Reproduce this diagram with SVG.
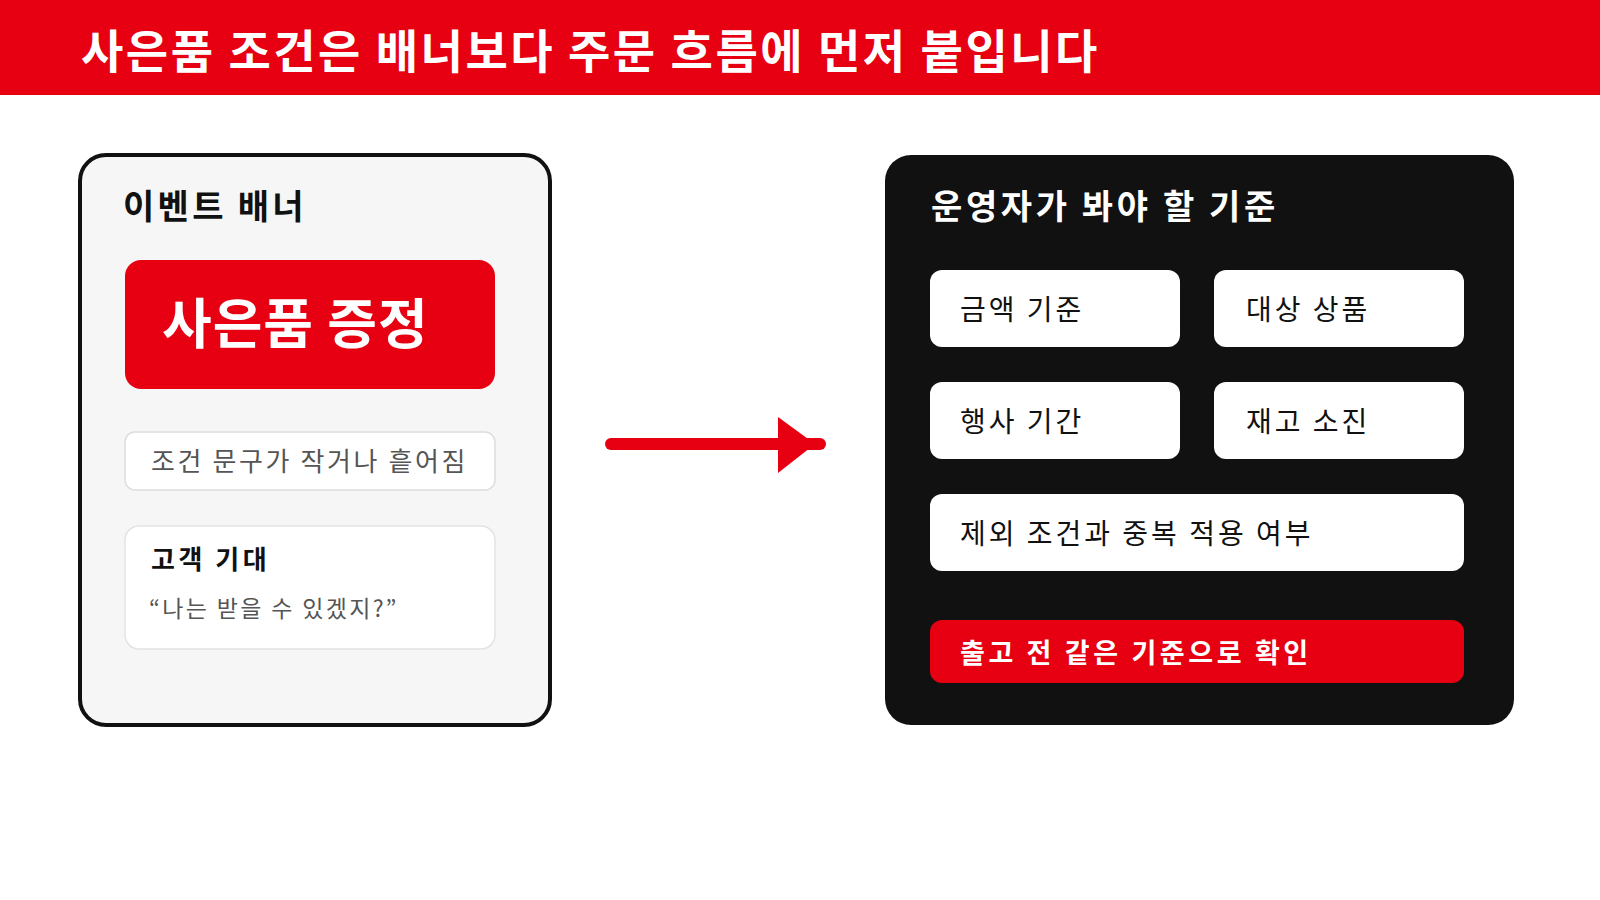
<svg xmlns="http://www.w3.org/2000/svg" width="1600" height="900" viewBox="0 0 1600 900">
<defs>
<style>
text{font-family:"Noto Sans CJK KR","Noto Sans",sans-serif}
.b{font-weight:700}
.w{fill:#fff}
.k{fill:#111}
.g{fill:#555}
.item{fill:#fff}
.itemtxt{font-size:28px;fill:#111;letter-spacing:3px}
</style>
</defs>
<rect x="0" y="0" width="1600" height="95" fill="#e60012"/>
<text x="81" y="68" class="b w" font-size="46" letter-spacing="2.5">사은품 조건은 배너보다 주문 흐름에 먼저 붙입니다</text>

<g id="banner">
<rect x="80" y="155" width="470" height="570" rx="26" fill="#f6f6f6" stroke="#111" stroke-width="4"/>
<text x="123" y="219" class="b k" font-size="34" letter-spacing="3.3">이벤트 배너</text>
</g>
<g id="gift">
<rect x="125" y="260" width="370" height="129" rx="16" fill="#e60012"/>
<text x="162" y="344" class="b w" font-size="54" letter-spacing="1">사은품 증정</text>
</g>
<g id="condition-text">
<rect x="125" y="432" width="370" height="58" rx="10" fill="#fff" stroke="#ddd" stroke-width="1.5"/>
<text x="151" y="471" class="g" font-size="26" letter-spacing="2.6">조건 문구가 작거나 흩어짐</text>
</g>
<g id="expectation">
<rect x="125" y="526" width="370" height="123" rx="14" fill="#fff" stroke="#e3e3e3" stroke-width="1.5"/>
<text x="151" y="569" class="b k" font-size="26" letter-spacing="3.5">고객 기대</text>
<text x="149" y="617" class="g" font-size="23" letter-spacing="2.35">“나는 받을 수 있겠지?”</text>
</g>

<g id="connectors">
<line x1="611" y1="444" x2="820" y2="444" stroke="#e60012" stroke-width="12" stroke-linecap="round"/>
<polygon points="778,417 778,473 815,444" fill="#e60012"/>
</g>

<g id="criteria">
<rect x="885" y="155" width="629" height="570" rx="26" fill="#111"/>
<text x="931" y="219" class="b w" font-size="34" letter-spacing="3.6">운영자가 봐야 할 기준</text>
</g>
<g id="amount">
<rect x="930" y="270" width="250" height="77" rx="12" class="item"/>
<text x="960" y="320" class="itemtxt">금액 기준</text>
</g>
<g id="product">
<rect x="1214" y="270" width="250" height="77" rx="12" class="item"/>
<text x="1246" y="320" class="itemtxt">대상 상품</text>
</g>
<g id="period">
<rect x="930" y="382" width="250" height="77" rx="12" class="item"/>
<text x="960" y="432" class="itemtxt">행사 기간</text>
</g>
<g id="stock">
<rect x="1214" y="382" width="250" height="77" rx="12" class="item"/>
<text x="1246" y="432" class="itemtxt">재고 소진</text>
</g>
<g id="exclusion">
<rect x="930" y="494" width="534" height="77" rx="12" class="item"/>
<text x="960" y="544" class="itemtxt">제외 조건과 중복 적용 여부</text>
</g>
<g id="confirm">
<rect x="930" y="620" width="534" height="63" rx="12" fill="#e60012"/>
<text x="960" y="663" class="b w" font-size="27" letter-spacing="3.6">출고 전 같은 기준으로 확인</text>
</g>
</svg>
